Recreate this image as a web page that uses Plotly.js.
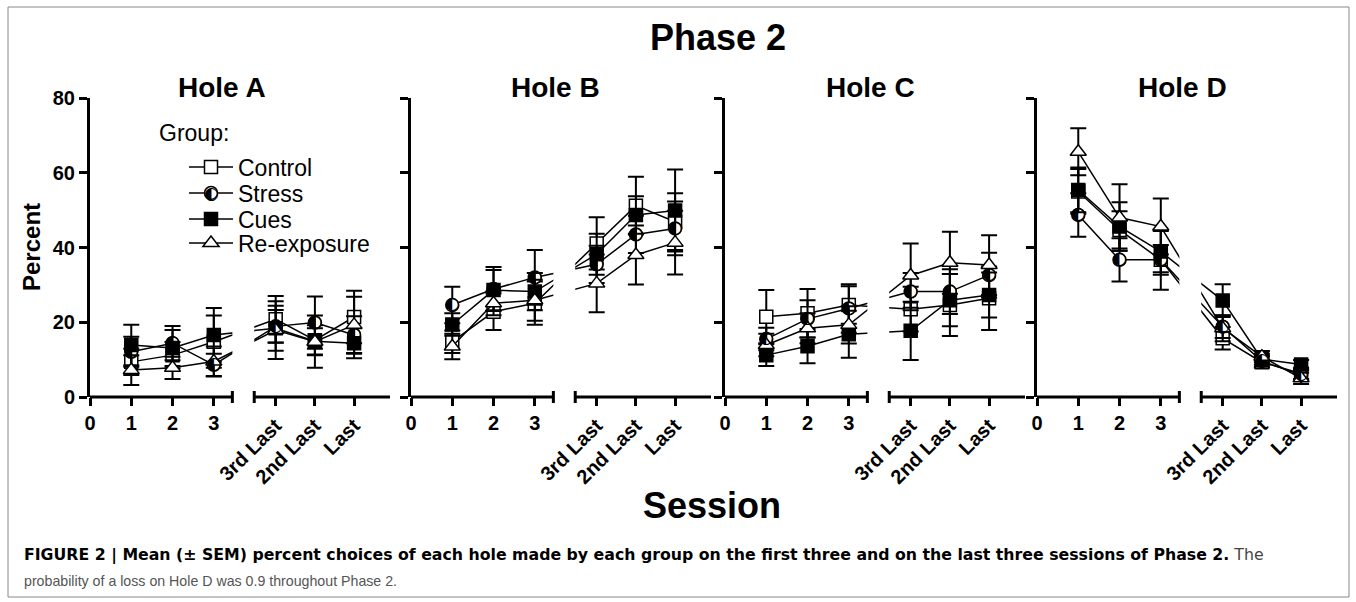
<!DOCTYPE html>
<html><head><meta charset="utf-8">
<script src="https://cdn.plot.ly/plotly-3.0.1.min.js"></script>
<style>html,body{margin:0;padding:0;background:#fff;} #chart{width:1356px;height:602px;}</style>
</head><body><div id="chart"></div>
<script>
// ---------------- DATA ----------------
const sessions = ['1', '2', '3', '3rd Last', '2nd Last', 'Last'];
const groups = ['Control', 'Stress', 'Cues', 'Re-exposure'];
const holes = ['Hole A', 'Hole B', 'Hole C', 'Hole D'];

// mean percent choices (Control, Stress, Cues, Re-exposure) per hole
const holeA_control = [9.4, 11.2, 14.8, 20.8, 15.2, 21.4];
const holeA_stress  = [12.1, 14.4, 8.6, 18.9, 19.9, 16.6];
const holeA_cues    = [13.9, 13.1, 16.6, 18.4, 14.9, 14.4];
const holeA_reexp   = [7.2, 7.8, 9.5, 17.9, 14.8, 19.3];

const holeB_control = [14.8, 22.8, 25.1, 41.1, 51.2, 46.9];
const holeB_stress  = [24.6, 28.9, 32.0, 35.5, 43.5, 45.1];
const holeB_cues    = [19.4, 28.6, 28.2, 38.2, 48.7, 49.9];
const holeB_reexp   = [13.5, 25.1, 25.9, 30.4, 38.0, 41.3];

const holeC_control = [21.5, 22.4, 24.6, 23.5, 24.6, 26.4];
const holeC_stress  = [15.5, 20.9, 23.7, 28.2, 28.2, 32.6];
const holeC_cues    = [11.2, 13.6, 16.8, 17.7, 25.9, 27.3];
const holeC_reexp   = [13.9, 18.4, 19.3, 32.5, 35.9, 35.3];

const holeD_control = [55.0, 44.7, 36.7, 15.7, 9.3, 6.3];
const holeD_stress  = [48.7, 36.7, 36.7, 18.8, 9.6, 5.9];
const holeD_cues    = [55.4, 45.6, 38.9, 25.8, 10.1, 8.7];
const holeD_reexp   = [65.6, 48.0, 45.6, 18.4, 10.8, 5.0];

// SEM
const holeA_control_sem = [3.5, 3.5, 7.0, 6.2, 4.0, 7.0];
const holeA_stress_sem  = [4.0, 4.6, 3.0, 4.4, 7.0, 5.0];
const holeA_cues_sem    = [5.4, 4.8, 7.2, 6.0, 3.5, 4.0];
const holeA_reexp_sem   = [4.0, 3.0, 4.0, 7.7, 7.0, 7.5];

const holeB_control_sem = [3.0, 4.9, 5.8, 7.0, 7.7, 7.6];
const holeB_stress_sem  = [4.9, 5.9, 7.3, 5.0, 5.0, 7.2];
const holeB_cues_sem    = [3.0, 5.4, 5.0, 5.5, 5.0, 11.0];
const holeB_reexp_sem   = [3.4, 3.2, 5.5, 7.7, 7.9, 8.5];

const holeC_control_sem = [7.1, 6.5, 5.0, 6.0, 8.3, 8.5];
const holeC_stress_sem  = [3.0, 5.0, 6.5, 5.0, 6.0, 6.0];
const holeC_cues_sem    = [2.9, 4.6, 6.3, 7.8, 7.0, 6.0];
const holeC_reexp_sem   = [3.0, 4.0, 5.0, 8.6, 8.3, 8.0];

const holeD_control_sem = [6.0, 5.0, 8.0, 3.0, 1.5, 1.5];
const holeD_stress_sem  = [5.8, 5.8, 4.0, 3.0, 1.5, 1.2];
const holeD_cues_sem    = [6.0, 6.5, 5.5, 4.4, 1.5, 1.2];
const holeD_reexp_sem   = [6.3, 8.9, 7.5, 3.5, 1.5, 1.5];

const yTicks = [0, 20, 40, 60, 80];

const means = [
  [holeA_control, holeA_stress, holeA_cues, holeA_reexp],
  [holeB_control, holeB_stress, holeB_cues, holeB_reexp],
  [holeC_control, holeC_stress, holeC_cues, holeC_reexp],
  [holeD_control, holeD_stress, holeD_cues, holeD_reexp]
];
const sems = [
  [holeA_control_sem, holeA_stress_sem, holeA_cues_sem, holeA_reexp_sem],
  [holeB_control_sem, holeB_stress_sem, holeB_cues_sem, holeB_reexp_sem],
  [holeC_control_sem, holeC_stress_sem, holeC_cues_sem, holeC_reexp_sem],
  [holeD_control_sem, holeD_stress_sem, holeD_cues_sem, holeD_reexp_sem]
];

// ---------------- LAYOUT HELPERS ----------------
const W = 1356, H = 602;
const px = p => p / W;
const py = p => 1 - p / H;
const FONT = 'Liberation Sans, Arial, sans-serif';
const panelLeft = [90, 411, 725, 1037];
const panelWidth = 300;
const plotTop = 98, plotBottom = 397;
const xMax = 7.27;
const gapL = 3.45, gapR = 3.98;
// session index -> axis position (axis break between first and last three)
const pos = i => (i < 3 ? i + 1 : 4.5 + (i - 3) * 0.95);
const xs = sessions.map((s, i) => pos(i));

const styles = [
  {symbol: 'square', color: '#fff', size: 13},
  {symbol: 'circle', color: '#fff', size: 13},
  {symbol: 'square', color: '#000', size: 13},
  {symbol: 'triangle-up', color: '#fff', size: 14}
];
const legendIds = ['legend', 'legend2', 'legend3', 'legend4'];
const legendY = [167, 193, 219, 243];
const legendX = 184;
const legendItemWidth = 44;

const traces = [];
const layout = {
  width: W, height: H,
  margin: {l: 0, r: 0, t: 0, b: 0},
  paper_bgcolor: '#fff', plot_bgcolor: 'rgba(0,0,0,0)',
  font: {family: FONT, color: '#000'},
  annotations: [], shapes: []
};

const tickFont = {family: FONT, size: 20, weight: 700, color: '#000'};

holes.forEach((hole, k) => {
  const s = k === 0 ? '' : String(k + 1);
  const xa = 'x' + s, ya = 'y' + s;
  const xo = 'x' + (k + 5);
  const L = panelLeft[k];
  layout['xaxis' + s] = {
    domain: [px(L), px(L + panelWidth)], range: [0, xMax], anchor: ya,
    tickmode: 'array', tickvals: [0].concat(xs.slice(0, 3)), ticktext: ['0'].concat(sessions.slice(0, 3)),
    ticks: 'outside', ticklen: 8, tickwidth: 3, tickcolor: '#000',
    showline: false, showgrid: false, zeroline: false, tickfont: tickFont, tickangle: 0
  };
  layout['xaxis' + (k + 5)] = {
    overlaying: xa, anchor: ya, range: [0, xMax], side: 'bottom',
    tickmode: 'array', tickvals: xs.slice(3), ticktext: sessions.slice(3),
    ticks: 'outside', ticklen: 8, tickwidth: 3, tickcolor: '#000',
    showline: false, showgrid: false, zeroline: false, tickfont: tickFont, tickangle: -45
  };
  layout['yaxis' + s] = {
    domain: [py(plotBottom), py(plotTop)], range: [0, 80], anchor: xa,
    tickmode: 'array', tickvals: yTicks,
    ticks: 'outside', ticklen: 8, tickwidth: 3, tickcolor: '#000',
    showline: true, linewidth: 3, linecolor: '#000',
    showgrid: false, zeroline: false, showticklabels: k === 0, tickfont: tickFont
  };

  groups.forEach((g, gi) => {
    const st = styles[gi];
    traces.push({
      type: 'scatter', mode: 'lines+markers', name: g,
      x: xs, y: means[k][gi], xaxis: xa, yaxis: ya,
      line: {color: '#000', width: 1.5},
      marker: {symbol: st.symbol, size: st.size, color: st.color, line: {color: '#000', width: 1.5}},
      error_y: {type: 'data', array: sems[k][gi], visible: true, color: '#000', thickness: 2, width: 8},
      showlegend: k === 0, legend: legendIds[gi], hoverinfo: 'skip'
    });
  });
  // half-filled glyph of the Stress markers (drawn on the overlay axis of the panel)
  traces.push({
    type: 'scatter', mode: 'text', x: xs, y: means[k][1], xaxis: xo, yaxis: ya,
    text: '\u25D0', textposition: 'middle center',
    textfont: {family: 'DejaVu Sans', size: 17, color: '#000'},
    showlegend: false, hoverinfo: 'skip', cliponaxis: false
  });

  // hole title
  layout.annotations.push({
    xref: 'paper', yref: 'paper', x: px([222, 555, 870, 1182][k]), y: py(87),
    xanchor: 'center', yanchor: 'middle', showarrow: false,
    text: '<b>' + hole + '</b>', font: {family: FONT, size: 28, color: '#000'}
  });

  // axis break: hide connecting lines in the gap, then draw the broken axis line
  layout.shapes.push({
    type: 'rect', xref: xa, yref: 'paper', x0: gapL, x1: gapR, y0: py(plotBottom - 1), y1: py(plotTop - 6),
    fillcolor: '#fff', line: {width: 0}, layer: 'above'
  });
  [[0, gapL], [gapR, xMax]].forEach(([a, b]) => {
    layout.shapes.push({type: 'line', xref: xa, yref: 'paper', x0: a, x1: b, y0: py(plotBottom), y1: py(plotBottom),
      line: {color: '#000', width: 3}, layer: 'above'});
  });
  [gapL, gapR].forEach(v => {
    layout.shapes.push({type: 'line', xref: xa, yref: 'paper', x0: v, x1: v, y0: py(plotBottom + 6), y1: py(plotBottom - 6),
      line: {color: '#000', width: 3}, layer: 'above'});
  });
});

// legends (one per group to control spacing)
legendIds.forEach((id, i) => {
  layout[id] = {
    x: px(legendX), y: py(legendY[i]), xanchor: 'left', yanchor: 'middle',
    bgcolor: 'rgba(0,0,0,0)', borderwidth: 0, itemwidth: legendItemWidth,
    font: {family: FONT, size: 23, color: '#000'}
  };
});
layout.annotations.push({
  xref: 'paper', yref: 'paper', x: px(legendX + legendItemWidth / 2 + 5), y: py(legendY[1]),
  xanchor: 'center', yanchor: 'middle', showarrow: false,
  text: '\u25D0', font: {family: 'DejaVu Sans', size: 17, color: '#000'}
});
layout.annotations.push({
  xref: 'paper', yref: 'paper', x: px(157), y: py(133), xanchor: 'left', yanchor: 'middle', showarrow: false,
  text: 'Group:', font: {family: FONT, size: 23, color: '#000'}
});

// titles
layout.annotations.push({
  xref: 'paper', yref: 'paper', x: px(718), y: py(38), xanchor: 'center', yanchor: 'middle', showarrow: false,
  text: '<b>Phase 2</b>', font: {family: FONT, size: 36, color: '#000'}
});
layout.annotations.push({
  xref: 'paper', yref: 'paper', x: px(712), y: py(505), xanchor: 'center', yanchor: 'middle', showarrow: false,
  text: '<b>Session</b>', font: {family: FONT, size: 36, color: '#000'}
});
layout.annotations.push({
  xref: 'paper', yref: 'paper', x: px(32), y: py(247), xanchor: 'center', yanchor: 'middle', showarrow: false,
  textangle: -90, text: '<b>Percent</b>', font: {family: FONT, size: 24, color: '#000'}
});

// caption
layout.annotations.push({
  xref: 'paper', yref: 'paper', x: px(22), y: py(555), xanchor: 'left', yanchor: 'middle', showarrow: false,
  text: '<b>FIGURE 2 | Mean (\u00B1 SEM) percent choices of each hole made by each group on the first three and on the last three sessions of Phase 2.</b><span style="color:#444"> The</span>',
  font: {family: 'DejaVu Sans', size: 15.75, color: '#000'}
});
layout.annotations.push({
  xref: 'paper', yref: 'paper', x: px(22), y: py(581), xanchor: 'left', yanchor: 'middle', showarrow: false,
  text: 'probability of a loss on Hole D was 0.9 throughout Phase 2.',
  font: {family: FONT, size: 14.2, color: '#555'}
});

// frame
layout.shapes.push({type: 'rect', xref: 'paper', yref: 'paper', x0: px(8), x1: px(1349), y0: py(597), y1: py(7),
  line: {color: '#888', width: 1}, fillcolor: 'rgba(0,0,0,0)', layer: 'below'});

Plotly.newPlot('chart', traces, layout, {displayModeBar: false, responsive: false});
</script>
</body></html>
